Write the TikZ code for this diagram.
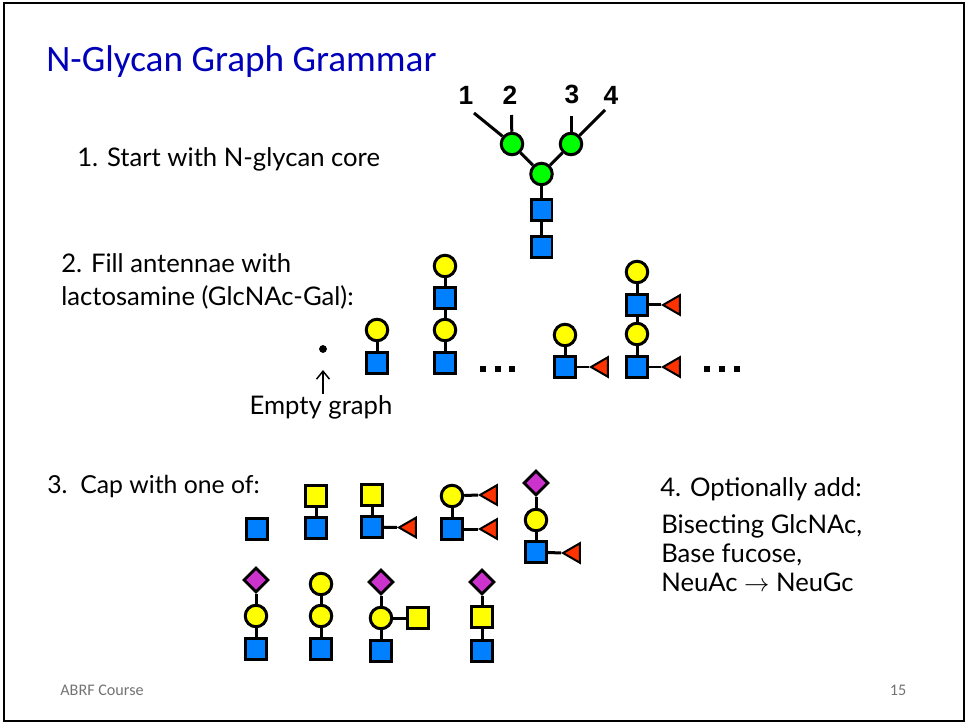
\documentclass[tikz,border=0pt]{standalone}
\usepackage{fontspec}
\setmainfont{Lato}
\newfontfamily\ttlfont{Carlito}
\newfontfamily\numfont{Liberation Sans}
\usepackage{xcolor}
\usetikzlibrary{arrows.meta,shapes.geometric}
\definecolor{glcblue}{HTML}{0080FF}
\definecolor{mangreen}{HTML}{00FF00}
\definecolor{galyellow}{HTML}{FFFF00}
\definecolor{fucred}{HTML}{FF3300}
\definecolor{sialpurple}{HTML}{CC33CC}
\definecolor{ttlblue}{HTML}{0000B8}

\begin{document}
\begin{tikzpicture}[
  x=0.02cm,y=-0.02cm,
  every node/.style={inner sep=0pt},
  lnk/.style={line width=0.06cm},
  sq/.style={draw,line width=0.06cm,minimum size=0.42cm},
  bs/.style={sq,fill=glcblue},
  ys/.style={sq,fill=galyellow},
  ci/.style={draw,circle,line width=0.06cm,minimum size=0.43cm},
  gc/.style={ci,fill=mangreen},
  yc/.style={ci,fill=galyellow},
  pd/.style={draw,diamond,line width=0.06cm,minimum size=0.5cm,fill=sialpurple},
  rt/.style={draw,isosceles triangle,isosceles triangle apex angle=60,shape border rotate=180,
    line width=0.04cm,minimum height=0.34cm,fill=fucred,anchor=apex},
  el/.style={fill=black,minimum size=0.12cm},
  txt/.style={anchor=base west,align=left,font=\fontsize{14.6}{19.3}\selectfont},
  num/.style={font=\numfont\bfseries\fontsize{15}{16}\selectfont},
  foot/.style={font=\ttlfont\fontsize{9.2}{10}\selectfont,text=black!55}
]
\useasboundingbox (0,0) rectangle (965,723);
\draw[line width=0.04cm] (4,3) rectangle (964,721);
\node[anchor=base west,text=ttlblue,font=\ttlfont\fontsize{21.2}{24}\selectfont] (ttl) at (46,72) {N-Glycan Graph Grammar};
\node[foot,anchor=west] (crs) at (60,690) {ABRF Course};
\node[foot] (pg) at (898,690) {15};
% core
\node[gc] (c1) at (512,144) {};
\node[gc] (c2) at (571,144) {};
\node[gc] (c3) at (541.5,174) {};
\node[bs] (c4) at (541.5,210) {};
\node[bs] (c5) at (541.5,247) {};
\coordinate (e1) at (474,113);
\coordinate (e2) at (511.5,115);
\coordinate (e3) at (571,116);
\coordinate (e4) at (605,110);
\foreach \a/\b in {c1/e1,c1/e2,c2/e3,c2/e4,c1/c3,c2/c3,c3/c4,c4/c5}
  \draw[lnk] (\a) -- (\b);
\node[num] (n1) at (466,95) {1};
\node[num] (n2) at (510,95) {2};
\node[num] (n3) at (572,94) {3};
\node[num] (n4) at (611,95) {4};
\node[txt] (t1) at (77,167) {1. Start with N-glycan core};
% antennae
\node[txt] (t2) at (61,306) {2. Fill antennae with\\lactosamine (GlcNAc-Gal):};
\node[draw,circle,fill=black,minimum size=0.14cm] (nil) at (323,349) {};
\node[txt,anchor=base] (t3) at (321,415) {Empty graph};
\coordinate (nila) at (323,394);
\coordinate (nilb) at (323,370);
\draw[line width=0.03cm,-{Straight Barb[length=1.6mm,width=2.6mm]}] (nila) -- (nilb);
\node[yc] (a1) at (377,330) {};
\node[bs] (a2) at (377,363) {};
\node[yc] (b1) at (445,266) {};
\node[bs] (b2) at (445,298) {};
\node[yc] (b3) at (445,330) {};
\node[bs] (b4) at (445,363) {};
\node[yc] (d1) at (565,335) {};
\node[bs] (d2) at (565,367) {};
\node[rt] (d3) at (589,367) {};
\node[yc] (f1) at (637,272) {};
\node[bs] (f2) at (637,305) {};
\node[rt] (f3) at (661,305) {};
\node[yc] (f4) at (637,334) {};
\node[bs] (f5) at (637,367) {};
\node[rt] (f6) at (661,367) {};
\foreach \i in {483,498,512,707,722,737} \node[el] (el\i) at (\i,369) {};
\foreach \a/\b in {a1/a2,b1/b2,b2/b3,b3/b4,d1/d2,f1/f2,f2/f4,f4/f5}
  \draw[lnk] (\a) -- (\b);
\foreach \a/\b in {d2/d3,f2/f3,f5/f6}
  \draw[lnk] (\a) -- (\b.apex);
% caps
\node[txt,font=\fontsize{14.1}{19}\selectfont] (t4) at (47,494) {3.\ \ Cap with one of:};
\node[bs] (g1) at (257,529) {};
\node[ys] (h1) at (316,496) {};
\node[bs] (h2) at (316,528) {};
\node[ys] (i1) at (372,495) {};
\node[bs] (i2) at (372,527) {};
\node[rt] (i3) at (397,527.5) {};
\node[yc] (j1) at (452,496) {};
\node[bs] (j2) at (452,529) {};
\node[rt] (j3) at (478,495) {};
\node[rt] (j4) at (478,529) {};
\node[pd] (k1) at (536,483) {};
\node[yc] (k2) at (536,520) {};
\node[bs] (k3) at (536,552) {};
\node[rt] (k4) at (561,553) {};
\node[pd] (l1) at (256,580) {};
\node[yc] (l2) at (256,616) {};
\node[bs] (l3) at (256,649) {};
\node[yc] (m1) at (321,584) {};
\node[yc] (m2) at (321,616) {};
\node[bs] (m3) at (321,649) {};
\node[pd] (o1) at (381,582) {};
\node[yc] (o2) at (381,618) {};
\node[ys] (o3) at (418,618) {};
\node[bs] (o4) at (381,651) {};
\node[pd] (p1) at (482,582) {};
\node[ys] (p2) at (482,617) {};
\node[bs] (p3) at (482,651) {};
\foreach \a/\b in {h1/h2,i1/i2,j1/j2,k1/k2,k2/k3,l1/l2,l2/l3,m1/m2,m2/m3,o1/o2,o2/o3,o2/o4,p1/p2,p2/p3}
  \draw[lnk] (\a) -- (\b);
\foreach \a/\b in {i2/i3,j1/j3,j2/j4,k3/k4}
  \draw[lnk] (\a) -- (\b.apex);
\node[txt] (t5) at (660,497) {4. Optionally add:};
\node[txt,font=\fontsize{14.6}{16.4}\selectfont] (t6) at (661,591) {Bisecting GlcNAc,\\Base fucose,\\NeuAc $\rightarrow$ NeuGc};
\end{tikzpicture}
\end{document}
